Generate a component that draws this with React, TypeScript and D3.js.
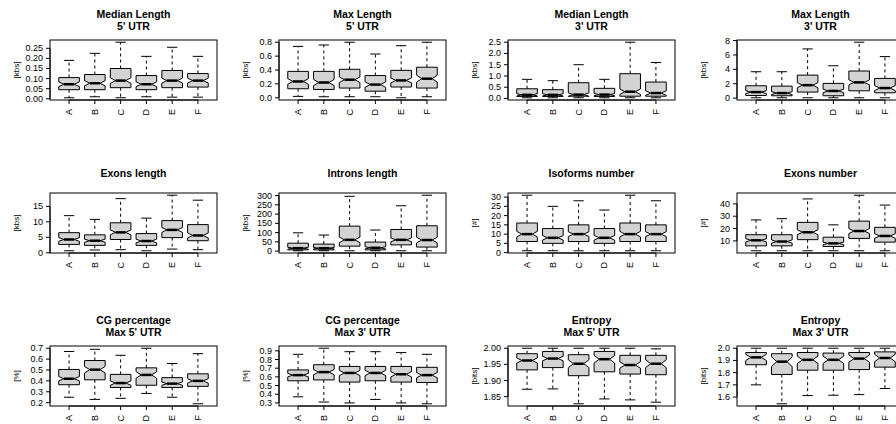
import React from "react";
import * as d3 from "d3";

const categories = ["A", "B", "C", "D", "E", "F"];

// One row per group: [lower whisker, Q1, median, Q3, upper whisker, notch half-height]
const medianLength5 = [
  [0.005, 0.045, 0.072, 0.105, 0.19, 0.012],
  [0.01, 0.045, 0.077, 0.12, 0.225, 0.013],
  [0.005, 0.055, 0.09, 0.15, 0.28, 0.014],
  [0.01, 0.045, 0.072, 0.115, 0.21, 0.012],
  [0.008, 0.055, 0.09, 0.14, 0.255, 0.012],
  [0.008, 0.058, 0.09, 0.125, 0.21, 0.012],
];
const maxLength5 = [
  [0.02, 0.13, 0.235, 0.38, 0.74, 0.04],
  [0.015, 0.12, 0.22, 0.38, 0.76, 0.045],
  [0.015, 0.14, 0.26, 0.41, 0.8, 0.04],
  [0.015, 0.095, 0.19, 0.32, 0.63, 0.04],
  [0.0, 0.155, 0.25, 0.395, 0.75, 0.035],
  [0.015, 0.14, 0.275, 0.44, 0.8, 0.05],
];
const medianLength3 = [
  [0.03, 0.09, 0.16, 0.43, 0.85, 0.05],
  [0.03, 0.09, 0.16, 0.39, 0.79, 0.05],
  [0.03, 0.1, 0.17, 0.7, 1.5, 0.08],
  [0.03, 0.09, 0.17, 0.45, 0.85, 0.05],
  [0.03, 0.1, 0.3, 1.1, 2.5, 0.12],
  [0.03, 0.1, 0.24, 0.73, 1.6, 0.1],
];
const maxLength3 = [
  [0.05, 0.37, 0.84, 1.72, 3.67, 0.2],
  [0.05, 0.33, 0.7, 1.67, 3.67, 0.2],
  [0.05, 0.84, 1.8, 3.2, 6.84, 0.35],
  [0.05, 0.33, 1.0, 2.05, 4.5, 0.25],
  [0.05, 1.02, 2.19, 3.77, 7.77, 0.35],
  [0.05, 0.74, 1.4, 2.74, 5.77, 0.35],
];
const exonsLength = [
  [0.65, 2.7, 4.3, 6.5, 12.0, 0.6],
  [0.9, 2.4, 3.9, 5.8, 10.8, 0.5],
  [1.0, 4.3, 6.6, 9.7, 17.5, 0.8],
  [0.65, 2.4, 3.8, 6.2, 11.2, 0.6],
  [1.2, 4.9, 7.4, 10.4, 18.6, 0.8],
  [1.0, 3.9, 5.6, 9.1, 17.0, 0.8],
];
const intronsLength = [
  [2, 7, 16, 43, 99, 5],
  [2, 7, 16, 38, 87, 4],
  [2, 27, 61, 135, 296, 15],
  [2, 7, 18, 49, 114, 6],
  [2, 34, 61, 117, 245, 10],
  [2, 22, 60, 137, 302, 15],
];
const isoformsNumber = [
  [1, 6, 10, 16, 31, 1.5],
  [1, 5, 8, 13, 25, 1.2],
  [1, 6, 10, 15, 28, 1.3],
  [1, 5, 8, 13, 23, 1.3],
  [1, 6, 10, 16, 31, 1.5],
  [1, 6, 10, 15, 28, 1.3],
];
const exonsNumber = [
  [2, 6, 10.5, 15, 27, 1.3],
  [2, 6, 9.5, 15, 28, 1.3],
  [2, 11, 17, 25, 44, 2],
  [2, 5.5, 8, 13, 23, 1],
  [2, 12, 18, 26, 47, 2],
  [2, 9, 14, 21, 39, 1.8],
];
const cgMax5 = [
  [0.25, 0.365, 0.42, 0.505, 0.67, 0.02],
  [0.23, 0.41, 0.503, 0.587, 0.69, 0.03],
  [0.24, 0.34, 0.38, 0.46, 0.635, 0.02],
  [0.285, 0.36, 0.455, 0.52, 0.7, 0.03],
  [0.25, 0.34, 0.375, 0.43, 0.56, 0.015],
  [0.19, 0.35, 0.4, 0.465, 0.65, 0.02],
];
const cgMax3 = [
  [0.37, 0.555, 0.62, 0.68, 0.86, 0.02],
  [0.31, 0.565, 0.655, 0.74, 0.93, 0.03],
  [0.3, 0.54, 0.645, 0.72, 0.89, 0.03],
  [0.34, 0.555, 0.645, 0.72, 0.89, 0.03],
  [0.3, 0.54, 0.63, 0.72, 0.88, 0.03],
  [0.29, 0.535, 0.62, 0.71, 0.86, 0.03],
];
const entropyMax5 = [
  [1.873, 1.933, 1.962, 1.983, 2.0, 0.008],
  [1.874, 1.94, 1.968, 1.99, 2.0, 0.007],
  [1.828, 1.915, 1.952, 1.98, 2.0, 0.012],
  [1.843, 1.927, 1.966, 1.99, 2.0, 0.012],
  [1.84, 1.92, 1.948, 1.978, 2.0, 0.01],
  [1.833, 1.918, 1.952, 1.978, 1.998, 0.012],
];
const entropyMax3 = [
  [1.7, 1.865, 1.925, 1.965, 2.0, 0.025],
  [1.545, 1.785, 1.89, 1.955, 2.0, 0.04],
  [1.612, 1.82, 1.905, 1.965, 2.0, 0.03],
  [1.615, 1.82, 1.905, 1.96, 2.0, 0.03],
  [1.62, 1.825, 1.915, 1.965, 2.0, 0.03],
  [1.67, 1.845, 1.92, 1.97, 2.0, 0.03],
];

const ticksMedianLength5 = [0, 0.05, 0.1, 0.15, 0.2, 0.25];
const ticksMaxLength5 = [0, 0.2, 0.4, 0.6, 0.8];
const ticksMedianLength3 = [0, 0.5, 1, 1.5, 2, 2.5];
const ticksMaxLength3 = [0, 2, 4, 6, 8];
const ticksExonsLength = [0, 5, 10, 15];
const ticksIntronsLength = [0, 50, 100, 150, 200, 250, 300];
const ticksIsoforms = [0, 5, 10, 15, 20, 25, 30];
const ticksExonsNumber = [10, 20, 30, 40];
const ticksCgMax5 = [0.2, 0.3, 0.4, 0.5, 0.6, 0.7];
const ticksCgMax3 = [0.3, 0.4, 0.5, 0.6, 0.7, 0.8, 0.9];
const ticksEntropyMax5 = [1.85, 1.9, 1.95, 2.0];
const ticksEntropyMax3 = [1.6, 1.7, 1.8, 1.9, 2.0];

const panels = [
  { title: ["Median Length", "5' UTR"], unit: "[kbs]", stats: medianLength5, ticks: ticksMedianLength5, fmt: ".2f" },
  { title: ["Max Length", "5' UTR"], unit: "[kbs]", stats: maxLength5, ticks: ticksMaxLength5, fmt: ".1f" },
  { title: ["Median Length", "3' UTR"], unit: "[kbs]", stats: medianLength3, ticks: ticksMedianLength3, fmt: ".1f" },
  { title: ["Max Length", "3' UTR"], unit: "[kbs]", stats: maxLength3, ticks: ticksMaxLength3, fmt: "d" },
  { title: ["Exons length"], unit: "[kbs]", stats: exonsLength, ticks: ticksExonsLength, fmt: "d" },
  { title: ["Introns length"], unit: "[kbs]", stats: intronsLength, ticks: ticksIntronsLength, fmt: "d" },
  { title: ["Isoforms number"], unit: "[#]", stats: isoformsNumber, ticks: ticksIsoforms, fmt: "d" },
  { title: ["Exons number"], unit: "[#]", stats: exonsNumber, ticks: ticksExonsNumber, fmt: "d" },
  { title: ["CG percentage", "Max 5' UTR"], unit: "[%]", stats: cgMax5, ticks: ticksCgMax5, fmt: ".1f" },
  { title: ["CG percentage", "Max 3' UTR"], unit: "[%]", stats: cgMax3, ticks: ticksCgMax3, fmt: ".1f" },
  { title: ["Entropy", "Max 5' UTR"], unit: "[bits]", stats: entropyMax5, ticks: ticksEntropyMax5, fmt: ".2f" },
  { title: ["Entropy", "Max 3' UTR"], unit: "[bits]", stats: entropyMax3, ticks: ticksEntropyMax3, fmt: ".1f" },
];

const WIDTH = 896;
const HEIGHT = 424;
const FRAME_W = 167;
const FRAME_H = 60;
const COL_STEP = 229;
const ROW_STEP = 153;
const FIRST_LEFT = 50;
const FIRST_TOP = 40;
const BOX_WEX = 0.8;
const NOTCH_FRAC = 0.5;
const STAPLE_WEX = 0.5;
const FONT = "'Liberation Sans', Arial, Helvetica, sans-serif";

function Panel({ panel, col, row }: { panel: any; col: number; row: number }) {
  const left = FIRST_LEFT + col * COL_STEP;
  const top = FIRST_TOP + row * ROW_STEP;
  const right = left + FRAME_W;
  const bottom = top + FRAME_H;

  const n = categories.length;
  const xPad = n * 0.04;
  const x = d3.scaleLinear().domain([0.5 - xPad, n + 0.5 + xPad]).range([left, right]);

  const lows = panel.stats.map((s: number[]) => Math.min(s[0], s[2] - s[5]));
  const highs = panel.stats.map((s: number[]) => Math.max(s[4], s[2] + s[5]));
  const lo = d3.min(lows) as number;
  const hi = d3.max(highs) as number;
  const yPad = (hi - lo) * 0.04;
  const y = d3.scaleLinear().domain([lo - yPad, hi + yPad]).range([bottom, top]);
  const fmt = d3.format(panel.fmt);

  const lines: string[] = panel.title;
  const titleY = lines.length === 2 ? [top - 26.5, top - 14.5] : [top - 20.5];

  return (
    <g>
      {lines.map((t, i) => (
        <text
          key={t}
          x={(left + right) / 2}
          y={titleY[i]}
          textAnchor="middle"
          dominantBaseline="central"
          fontFamily={FONT}
          fontWeight="bold"
          fontSize={10.5}
          fill="#000"
        >
          {t}
        </text>
      ))}

      {panel.stats.map((s: number[], i: number) => {
        const cx = i + 1;
        const [mn, q1, med, q3, mx, nh] = s;
        const xs = [-0.5, 0.5, 0.5, NOTCH_FRAC / 2, 0.5, 0.5, -0.5, -0.5, -NOTCH_FRAC / 2, -0.5].map(
          (f) => x(cx + BOX_WEX * f)
        );
        const ys = [q1, q1, med - nh, med, med + nh, q3, q3, med + nh, med, med - nh].map((v) => y(v));
        const pts = xs.map((px, k) => `${px},${ys[k]}`).join(" ");
        const stapleHalf = (BOX_WEX * STAPLE_WEX) / 2;
        const medHalf = (NOTCH_FRAC * BOX_WEX) / 2;
        return (
          <g key={categories[i]}>
            <line x1={x(cx)} x2={x(cx)} y1={y(q3)} y2={y(mx)} stroke="#000" strokeWidth={1} strokeDasharray="3,3" />
            <line x1={x(cx)} x2={x(cx)} y1={y(q1)} y2={y(mn)} stroke="#000" strokeWidth={1} strokeDasharray="3,3" />
            <line x1={x(cx - stapleHalf)} x2={x(cx + stapleHalf)} y1={y(mx)} y2={y(mx)} stroke="#000" strokeWidth={1} />
            <line x1={x(cx - stapleHalf)} x2={x(cx + stapleHalf)} y1={y(mn)} y2={y(mn)} stroke="#000" strokeWidth={1} />
            <polygon points={pts} fill="#d3d3d3" stroke="#000" strokeWidth={1} />
            <line x1={x(cx - medHalf)} x2={x(cx + medHalf)} y1={y(med)} y2={y(med)} stroke="#000" strokeWidth={2.5} />
          </g>
        );
      })}

      <rect x={left} y={top} width={FRAME_W} height={FRAME_H} fill="none" stroke="#000" strokeWidth={1} />

      {/* y axis */}
      <line x1={left} x2={left} y1={y(panel.ticks[0])} y2={y(panel.ticks[panel.ticks.length - 1])} stroke="#000" />
      {panel.ticks.map((t: number) => (
        <g key={t}>
          <line x1={left - 4} x2={left} y1={y(t)} y2={y(t)} stroke="#000" />
          <text
            x={left - 7}
            y={y(t)}
            textAnchor="end"
            dominantBaseline="central"
            fontFamily={FONT}
            fontSize={9}
            fill="#000"
          >
            {fmt(t)}
          </text>
        </g>
      ))}
      <text
        transform={`translate(${left - 34},${(top + bottom) / 2}) rotate(-90)`}
        textAnchor="middle"
        dominantBaseline="central"
        fontFamily={FONT}
        fontSize={8}
        fill="#000"
      >
        {panel.unit}
      </text>

      {/* x axis */}
      <line x1={x(1)} x2={x(n)} y1={bottom} y2={bottom} stroke="#000" />
      {categories.map((c, i) => (
        <g key={c}>
          <line x1={x(i + 1)} x2={x(i + 1)} y1={bottom} y2={bottom + 4} stroke="#000" />
          <text
            transform={`translate(${x(i + 1)},${bottom + 9}) rotate(-90)`}
            textAnchor="end"
            dominantBaseline="central"
            fontFamily={FONT}
            fontSize={9}
            fill="#000"
          >
            {c}
          </text>
        </g>
      ))}
    </g>
  );
}

export default function App() {
  return (
    <svg
      width={WIDTH}
      height={HEIGHT}
      style={{ display: "block", position: "absolute", left: 0, top: 0, background: "#fff" }}
    >
      {panels.map((p, i) => (
        <Panel key={i} panel={p} col={i % 4} row={Math.floor(i / 4)} />
      ))}
    </svg>
  );
}
